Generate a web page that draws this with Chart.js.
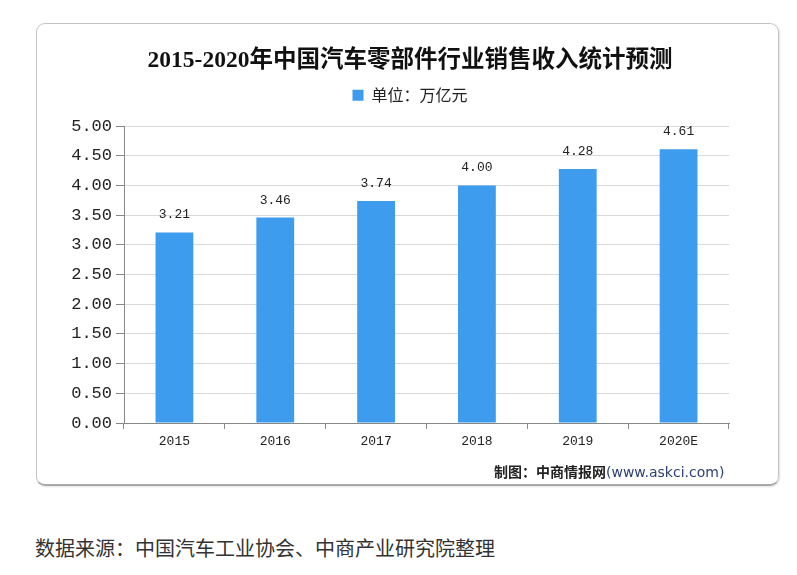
<!DOCTYPE html>
<html>
<head>
<meta charset="utf-8">
<script src="https://cdn.jsdelivr.net/npm/chart.js@4/dist/chart.umd.min.js"></script>
<style>
  body { margin: 0; background: #fff; width: 797px; height: 575px; position: relative; overflow: hidden; }
  #box { position: absolute; left: 36px; top: 23px; width: 741px; height: 460px;
         border: 1px solid #c4c4c4; border-bottom: 2px solid #a8a8a8; border-radius: 9px;
         box-shadow: 1px 1px 2px rgba(0,0,0,0.12); }
  #wrap { position: absolute; left: 0; top: 0; width: 741px; height: 460px; }
  #credit { position: absolute; left: 457px; top: 437px; font-family: "Noto Sans CJK SC", sans-serif;
            font-size: 14px; font-weight: bold; color: #222; white-space: nowrap; }
  #credit span { font-weight: normal; color: #2b3f73; font-family: "DejaVu Sans", sans-serif; font-size: 14px; }
  #source { position: absolute; left: 35px; top: 533px; font-family: "Noto Sans CJK SC", sans-serif;
            font-size: 20px; color: #333; white-space: nowrap; }
</style>
</head>
<body>
<div id="box">
  <div id="wrap"><canvas id="myChart" width="741" height="460"></canvas></div>
  <div id="credit">制图：中商情报网<span>(www.askci.com)</span></div>
</div>
<div id="source">数据来源：中国汽车工业协会、中商产业研究院整理</div>
<script>
  const years = ['2015', '2016', '2017', '2018', '2019', '2020E']
  const revenue = [3.21, 3.46, 3.74, 4.00, 4.28, 4.61]
  const unitLabel = '单位：万亿元'

  // value labels above bars
  const barValues = {
    id: 'barValues',
    afterDatasetsDraw(chart) {
      const c = chart.ctx
      const meta = chart.getDatasetMeta(0)
      c.save()
      c.font = '13px "Liberation Mono", monospace'
      c.fillStyle = '#222'
      c.textAlign = 'center'
      c.textBaseline = 'bottom'
      meta.data.forEach((bar, i) => {
        c.fillText(revenue[i].toFixed(2), bar.x, bar.y - 11)
      })
      c.restore()
    }
  }

  const ctx = document.getElementById('myChart')
  // eslint-disable-next-line no-unused-vars
  const myChart = new Chart(ctx, {
    type: 'bar',
    data: {
      labels: years,
      datasets: [{
        label: unitLabel,
        data: revenue,
        backgroundColor: '#3d9cee',
        borderWidth: 0,
        barPercentage: 0.375,
        categoryPercentage: 1,
      }]
    },
    plugins: [barValues],
    options: {
      responsive: false,
      animation: false,
      layout: {
        padding: { left: 31, right: 26, top: 23, bottom: 0 }
      },
      scales: {
        x: {
          afterFit: (s) => { s.height = 61 },
          grid: {
            drawOnChartArea: false,
            tickLength: 6,
            tickColor: '#888',
          },
          border: { color: '#888', width: 1 },
          ticks: {
            color: '#222',
            padding: 5,
            font: { family: '"Liberation Mono", monospace', size: 13 },
          }
        },
        y: {
          min: 0,
          max: 5,
          afterFit: (s) => { s.width = 56 },
          grid: {
            color: '#d9d9d9',
            tickLength: 8,
            tickColor: '#888',
          },
          border: { color: '#888', width: 1 },
          ticks: {
            stepSize: 0.5,
            color: '#222',
            padding: 4,
            font: { family: '"Liberation Mono", monospace', size: 17 },
            callback: (v) => v.toFixed(2),
          }
        },
        // empty right margin
        yRight: {
          position: 'right',
          afterFit: (s) => { s.width = 23 },
          grid: { drawOnChartArea: false, drawTicks: false },
          border: { display: false },
          ticks: { display: false },
        }
      },
      plugins: {
        legend: {
          display: true,
          labels: {
            boxWidth: 11,
            boxHeight: 11,
            padding: 8,
            color: '#222',
            font: { family: '"Noto Sans CJK SC", sans-serif', size: 16 },
          }
        },
        tooltip: { enabled: false },
        title: {
          display: true,
          text: '2015-2020年中国汽车零部件行业销售收入统计预测',
          color: '#111',
          font: { family: '"Liberation Serif", "Noto Sans CJK SC", serif', size: 23.5, weight: 'bold' },
          padding: { top: 0, bottom: 4 }
        },
        // spacer between legend and plot
        subtitle: {
          display: true,
          text: '',
          weight: 500,
          font: { size: 10 },
          padding: { top: 1, bottom: 0 }
        }
      }
    }
  })
</script>
</body>
</html>
